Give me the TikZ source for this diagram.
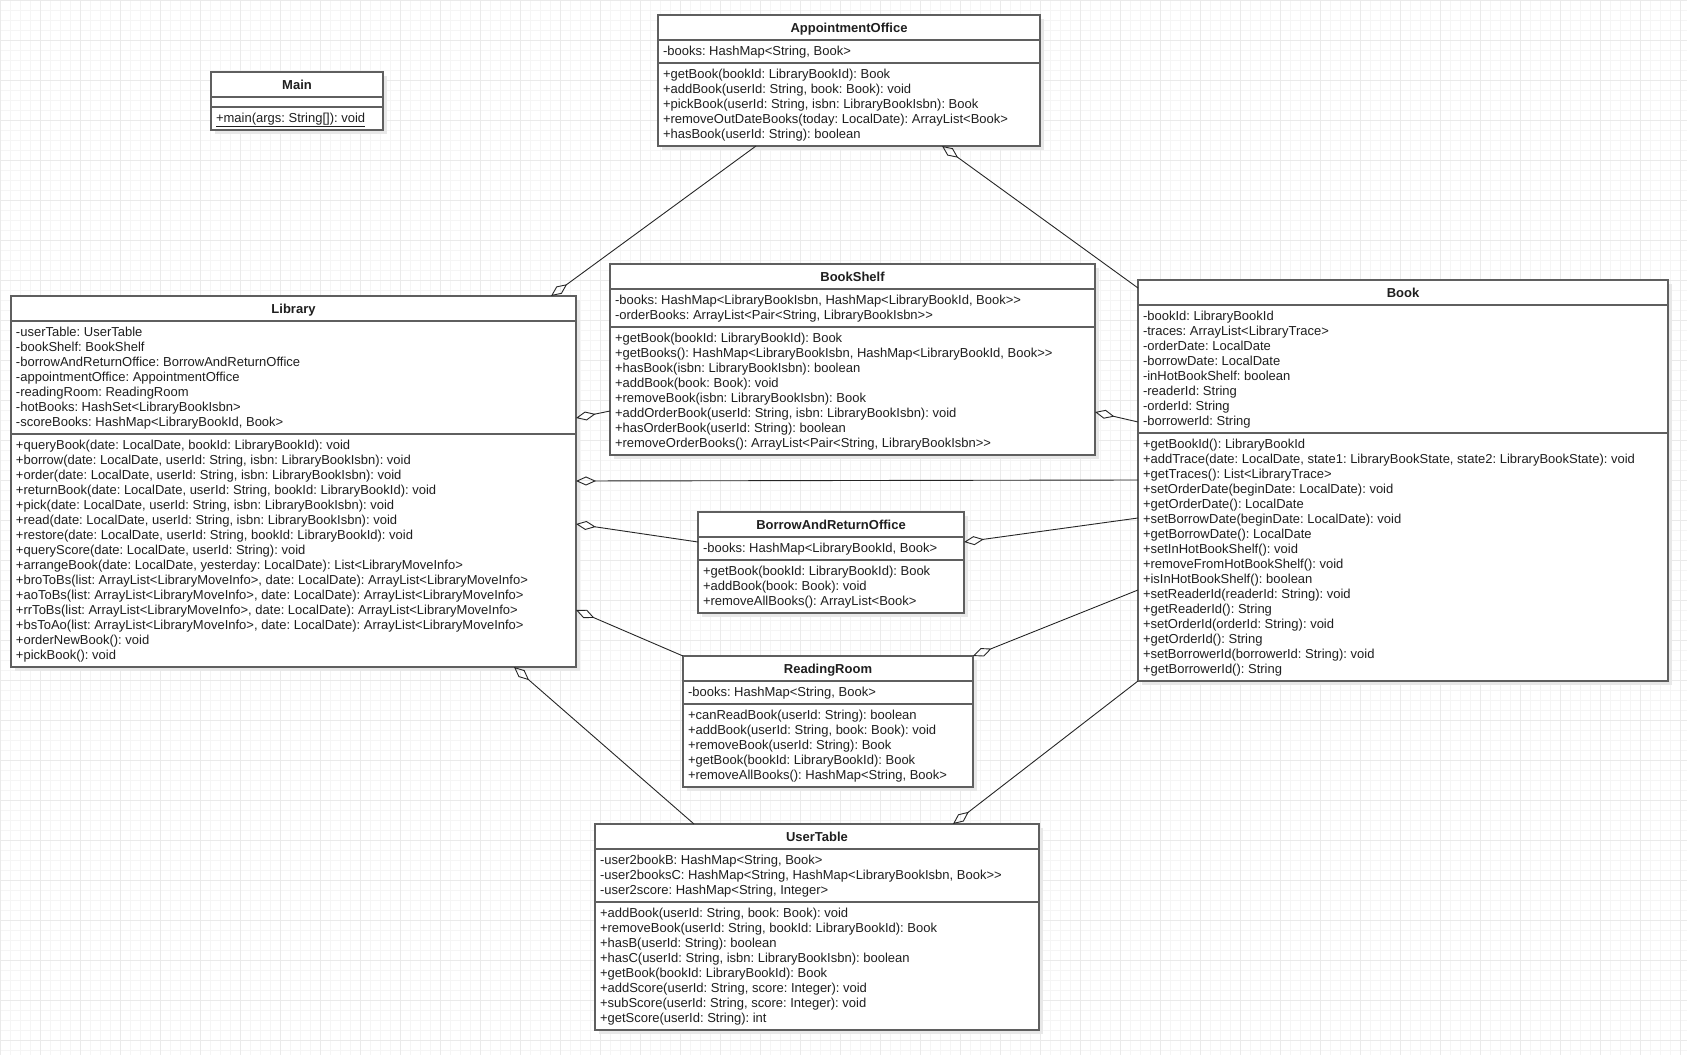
\documentclass[tikz,border=0pt]{standalone}
\usepackage{fontspec}
\setmainfont{Liberation Sans}
\frenchspacing
\usetikzlibrary{arrows.meta,calc}
\definecolor{boxline}{RGB}{95,95,95}
\definecolor{gridminor}{RGB}{245,245,245}
\definecolor{gridmajor}{RGB}{234,234,234}
\definecolor{shadowc}{RGB}{232,232,232}
\tikzset{
  classbox/.style={draw=boxline, line width=1.3pt, fill=white, inner sep=0pt, outer sep=0pt, rectangle},
  sepline/.style={draw=boxline, line width=1.3pt},
  titletxt/.style={font=\fontsize{13}{15}\selectfont\frenchspacing\bfseries, inner sep=0pt, outer sep=0pt, text=black!88},
  linetxt/.style={font=\fontsize{13}{15}\selectfont\frenchspacing, inner sep=0pt, outer sep=0pt, text=black!88},
  agg/.style={-{Diamond[open,length=20pt,width=9pt]}, line width=0.9pt, draw=black!85}
}
% #1 name, #2 x, #3 y, #4 w, #5 h, #6 title, #7 sep1 y, #8 sep2 y
\newcommand\umlbox[8]{%
  \fill[shadowc] (#2+4,#3+4) rectangle ++(#4,#5);
  \node[classbox, minimum width=#4pt, minimum height=#5pt, anchor=north west] (#1) at (#2,#3) {};
  \draw[sepline] (#2,#7) -- ++(#4,0);
  \draw[sepline] (#2,#8) -- ++(#4,0);
  \node[titletxt, anchor=base] (#1-t) at (#2+#4/2,#3+17) {#6};
}
% #1 name prefix, #2 x, #3 section top y, #4 list
\newcommand\umllines[4]{%
  \foreach \t [count=\i from 0] in {#4}
    \node[linetxt, anchor=base west] (#1\i) at (#2+5,#3+15.5+15*\i) {\t};
}
\begin{document}
\begin{tikzpicture}[x=1pt,y=-1pt]
\useasboundingbox (0,0) rectangle (1687,1055);
\fill[white] (0,0) rectangle (1687,1055);
\foreach \x in {0,10,...,1680} \draw[gridminor, line width=0.8pt] (\x,0) -- (\x,1055);
\foreach \y in {0,10,...,1050} \draw[gridminor, line width=0.8pt] (0,\y) -- (1687,\y);
\foreach \x in {0,40,...,1680} \draw[gridmajor, line width=0.8pt] (\x,0) -- (\x,1055);
\foreach \y in {0,40,...,1040} \draw[gridmajor, line width=0.8pt] (0,\y) -- (1687,\y);

% Main
\umlbox{main}{211}{72}{172}{58}{Main}{97}{107}
\umllines{main-m}{211}{107}{{\underline{+main(args: String[]): void}}}

% AppointmentOffice
\umlbox{ao}{658}{15}{382}{131}{AppointmentOffice}{40}{63}
\umllines{ao-a}{658}{40}{{-books: HashMap<String, Book>}}
\umllines{ao-m}{658}{63}{{+getBook(bookId: LibraryBookId): Book},{+addBook(userId: String, book: Book): void},{+pickBook(userId: String, isbn: LibraryBookIsbn): Book},{+removeOutDateBooks(today: LocalDate): ArrayList<Book>},{+hasBook(userId: String): boolean}}

% Library
\umlbox{lib}{11}{296}{565}{371}{Library}{321}{434}
\umllines{lib-a}{11}{321}{{-userTable: UserTable},{-bookShelf: BookShelf},{-borrowAndReturnOffice: BorrowAndReturnOffice},{-appointmentOffice: AppointmentOffice},{-readingRoom: ReadingRoom},{-hotBooks: HashSet<LibraryBookIsbn>},{-scoreBooks: HashMap<LibraryBookId, Book>}}
\umllines{lib-m}{11}{434}{{+queryBook(date: LocalDate, bookId: LibraryBookId): void},{+borrow(date: LocalDate, userId: String, isbn: LibraryBookIsbn): void},{+order(date: LocalDate, userId: String, isbn: LibraryBookIsbn): void},{+returnBook(date: LocalDate, userId: String, bookId: LibraryBookId): void},{+pick(date: LocalDate, userId: String, isbn: LibraryBookIsbn): void},{+read(date: LocalDate, userId: String, isbn: LibraryBookIsbn): void},{+restore(date: LocalDate, userId: String, bookId: LibraryBookId): void},{+queryScore(date: LocalDate, userId: String): void},{+arrangeBook(date: LocalDate, yesterday: LocalDate): List<LibraryMoveInfo>},{+broToBs(list: ArrayList<LibraryMoveInfo>, date: LocalDate): ArrayList<LibraryMoveInfo>},{+aoToBs(list: ArrayList<LibraryMoveInfo>, date: LocalDate): ArrayList<LibraryMoveInfo>},{+rrToBs(list: ArrayList<LibraryMoveInfo>, date: LocalDate): ArrayList<LibraryMoveInfo>},{+bsToAo(list: ArrayList<LibraryMoveInfo>, date: LocalDate): ArrayList<LibraryMoveInfo>},{+orderNewBook(): void},{+pickBook(): void}}

% BookShelf
\umlbox{bs}{610}{264}{485}{191}{BookShelf}{289}{327}
\umllines{bs-a}{610}{289}{{-books: HashMap<LibraryBookIsbn, HashMap<LibraryBookId, Book>{}>},{-orderBooks: ArrayList<Pair<String, LibraryBookIsbn>{}>}}
\umllines{bs-m}{610}{327}{{+getBook(bookId: LibraryBookId): Book},{+getBooks(): HashMap<LibraryBookIsbn, HashMap<LibraryBookId, Book>{}>},{+hasBook(isbn: LibraryBookIsbn): boolean},{+addBook(book: Book): void},{+removeBook(isbn: LibraryBookIsbn): Book},{+addOrderBook(userId: String, isbn: LibraryBookIsbn): void},{+hasOrderBook(userId: String): boolean},{+removeOrderBooks(): ArrayList<Pair<String, LibraryBookIsbn>{}>}}

% Book
\umlbox{book}{1138}{280}{530}{401}{Book}{305}{433}
\umllines{book-a}{1138}{305}{{-bookId: LibraryBookId},{-traces: ArrayList<LibraryTrace>},{-orderDate: LocalDate},{-borrowDate: LocalDate},{-inHotBookShelf: boolean},{-readerId: String},{-orderId: String},{-borrowerId: String}}
\umllines{book-m}{1138}{433}{{+getBookId(): LibraryBookId},{+addTrace(date: LocalDate, state1: LibraryBookState, state2: LibraryBookState): void},{+getTraces(): List<LibraryTrace>},{+setOrderDate(beginDate: LocalDate): void},{+getOrderDate(): LocalDate},{+setBorrowDate(beginDate: LocalDate): void},{+getBorrowDate(): LocalDate},{+setInHotBookShelf(): void},{+removeFromHotBookShelf(): void},{+isInHotBookShelf(): boolean},{+setReaderId(readerId: String): void},{+getReaderId(): String},{+setOrderId(orderId: String): void},{+getOrderId(): String},{+setBorrowerId(borrowerId: String): void},{+getBorrowerId(): String}}

% BorrowAndReturnOffice
\umlbox{bro}{698}{512}{266}{101}{BorrowAndReturnOffice}{537}{560}
\umllines{bro-a}{698}{537}{{-books: HashMap<LibraryBookId, Book>}}
\umllines{bro-m}{698}{560}{{+getBook(bookId: LibraryBookId): Book},{+addBook(book: Book): void},{+removeAllBooks(): ArrayList<Book>}}

% ReadingRoom
\umlbox{rr}{683}{656}{290}{131}{ReadingRoom}{681}{704}
\umllines{rr-a}{683}{681}{{-books: HashMap<String, Book>}}
\umllines{rr-m}{683}{704}{{+canReadBook(userId: String): boolean},{+addBook(userId: String, book: Book): void},{+removeBook(userId: String): Book},{+getBook(bookId: LibraryBookId): Book},{+removeAllBooks(): HashMap<String, Book>}}

% UserTable
\umlbox{ut}{595}{824}{444}{206}{UserTable}{849}{902}
\umllines{ut-a}{595}{849}{{-user2bookB: HashMap<String, Book>},{-user2booksC: HashMap<String, HashMap<LibraryBookIsbn, Book>{}>},{-user2score: HashMap<String, Integer>}}
\umllines{ut-m}{595}{902}{{+addBook(userId: String, book: Book): void},{+removeBook(userId: String, bookId: LibraryBookId): Book},{+hasB(userId: String): boolean},{+hasC(userId: String, isbn: LibraryBookIsbn): boolean},{+getBook(bookId: LibraryBookId): Book},{+addScore(userId: String, score: Integer): void},{+subScore(userId: String, score: Integer): void},{+getScore(userId: String): int}}

% Aggregations (diamond at the whole)
\draw[agg] ($(ao.south west)+(98,0)$) -- ($(lib.north west)+(540,0)$);
\draw[agg] ($(book.north west)+(0,8)$) -- ($(ao.south west)+(284,0)$);
\draw[agg] ($(bs.north west)+(0,147)$) -- ($(lib.north east)+(0,122)$);
\draw[agg] ($(book.north west)+(0,142)$) -- ($(bs.north east)+(0,148)$);
\draw[agg] ($(book.north west)+(0,200)$) -- ($(lib.north east)+(0,185)$);
\draw[agg] ($(bro.north west)+(0,30)$) -- ($(lib.north east)+(0,228)$);
\draw[agg] ($(book.north west)+(0,238)$) -- ($(bro.north east)+(0,30)$);
\draw[agg] (rr.north west) -- ($(lib.north east)+(0,314)$);
\draw[agg] ($(book.north west)+(0,310)$) -- (rr.north east);
\draw[agg] ($(ut.north west)+(99,0)$) -- ($(lib.south west)+(503,0)$);
\draw[agg] (book.south west) -- ($(ut.north west)+(358,0)$);
\end{tikzpicture}
\end{document}
